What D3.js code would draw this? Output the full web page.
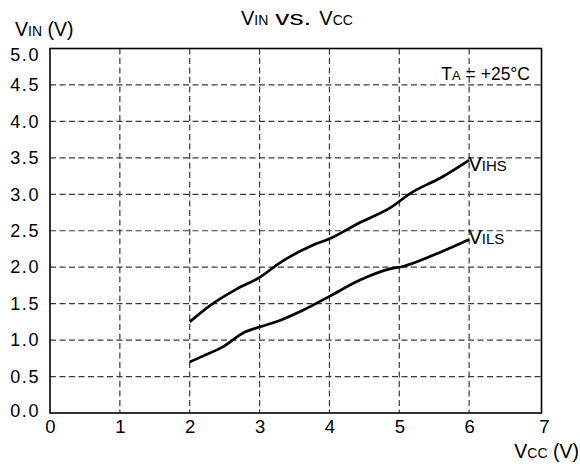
<!DOCTYPE html>
<html><head><meta charset="utf-8">
<script src="https://cdn.jsdelivr.net/npm/d3@7"></script>
<style>body{margin:0;background:#fff}</style>
</head><body>
<svg id="c" width="580" height="466"></svg>
<script>
const xTicks = [0,1,2,3,4,5,6,7];
const yTicks = [0,0.5,1,1.5,2,2.5,3,3.5,4,4.5,5];
const vihsX = [2.0, 2.3, 2.67, 3.0, 3.29, 3.76, 4.0, 4.43, 4.88, 5.17, 5.6, 6.0];
const vihsY = [1.25, 1.48, 1.70, 1.86, 2.06, 2.30, 2.39, 2.61, 2.82, 3.02, 3.23, 3.47];
const vilsX = [2.0, 2.19, 2.48, 2.79, 3.0, 3.29, 3.62, 4.0, 4.43, 4.88, 5.05, 5.5, 6.0];
const vilsY = [0.70, 0.78, 0.91, 1.11, 1.18, 1.27, 1.41, 1.60, 1.82, 1.98, 2.01, 2.17, 2.38];

const svg = d3.select("#c");
const font = "Liberation Sans, Arial, sans-serif";
const L=50, R=539, T=48.5, B=413, FR=541.5;
const x = d3.scaleLinear().domain([0,7]).range([L,R]);
const y = d3.scaleLinear().domain([0,5]).range([B,T]);

// grid
svg.append("g").selectAll("line").data(xTicks.filter(d=>d>0&&d<7)).join("line")
  .attr("x1",d=>x(d)).attr("x2",d=>x(d)).attr("y1",T).attr("y2",B)
  .attr("stroke","#3a3a3a").attr("stroke-width",1.2).attr("stroke-dasharray","6,3.5");
svg.append("g").selectAll("line").data(yTicks.filter(d=>d>0&&d<5)).join("line")
  .attr("y1",d=>y(d)).attr("y2",d=>y(d)).attr("x1",L).attr("x2",FR)
  .attr("stroke","#3a3a3a").attr("stroke-width",1.2).attr("stroke-dasharray","6,3.5");

// frame
svg.append("rect").attr("x",L).attr("y",T).attr("width",FR-L).attr("height",B-T)
  .attr("fill","none").attr("stroke","#000").attr("stroke-width",1.6);

// axes (labels only)
const xa = svg.append("g").attr("transform",`translate(0,${B})`)
  .call(d3.axisBottom(x).tickValues(xTicks).tickSize(0).tickPadding(7).tickFormat(d3.format("d")));
xa.select(".domain").remove();
xa.selectAll("text").attr("font-family",font).attr("font-size",18.5).attr("fill","#000");
xa.selectAll(".tick").filter(d=>d===7).select("text").attr("dx",5);
const ya = svg.append("g").attr("transform",`translate(${L},0)`)
  .call(d3.axisLeft(y).tickValues(yTicks).tickSize(0).tickPadding(10).tickFormat(d3.format(".1f")));
ya.select(".domain").remove();
ya.selectAll("text").attr("font-family",font).attr("font-size",18).attr("fill","#000")
  .attr("letter-spacing",1.6);
ya.selectAll(".tick").filter(d=>d===5).select("text").attr("dy","0.65em");
ya.selectAll(".tick").filter(d=>d===0).select("text").attr("dy","0.2em");

// curves
const line = d3.line().x(d=>x(d[0])).y(d=>y(d[1])).curve(d3.curveMonotoneX);
[[vihsX,vihsY],[vilsX,vilsY]].forEach(([xs,ys])=>{
  svg.append("path").datum(xs.map((v,i)=>[v,ys[i]])).attr("d",line)
    .attr("fill","none").attr("stroke","#000").attr("stroke-width",2.7);
});

function label(px, py, parts, size, sub, anchor){
  const e = svg.append("text").attr("x",px).attr("y",py).attr("font-family",font)
    .attr("font-size",size).attr("fill","#000").attr("text-anchor",anchor||"start");
  parts.forEach(p=>{
    const t = e.append("tspan").attr("font-size",p[1]?sub:size).text(p[0]);
    if (p[2]) t.attr("dx",p[2]);
    if (p[3]) t.attr("textLength",p[3]).attr("lengthAdjust","spacingAndGlyphs");
  });
  return e;
}
label(241, 24.5, [["V",0],["IN",1],["vs.",0,7,36],["V",0,8],["CC",1]], 20, 14, "start");
label(15, 36, [["V",0],["IN",1],[" (V)",0]], 19.5, 14, "start");
label(579, 457.5, [["V",0],["CC",1],[" (V)",0]], 19.5, 14, "end");
label(468.5, 170.5, [["V",0],["IHS",1]], 20, 15, "start");
label(468.5, 244, [["V",0],["ILS",1]], 20, 15, "start");
label(530, 80, [["T",0],["A",1],[" = +25°C",0]], 17.5, 13, "end");
</script>
</body></html>
